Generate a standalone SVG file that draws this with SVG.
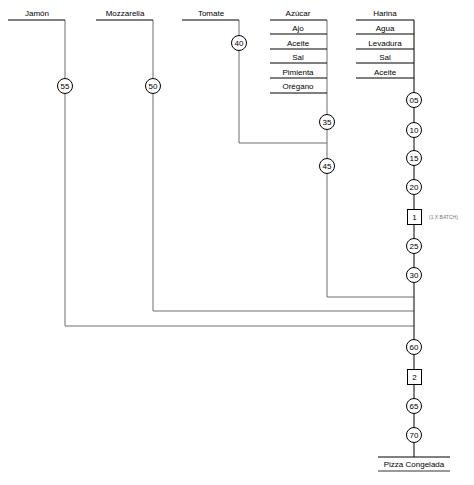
<svg xmlns="http://www.w3.org/2000/svg" width="474" height="485" viewBox="0 0 474 485">
<style>
text{font-family:"Liberation Sans",Arial,sans-serif;font-size:8px;fill:#000;text-anchor:middle}
.g{stroke:#6e6e6e;stroke-width:1;fill:none}
.k{stroke:#000;stroke-width:1;fill:none}
.c{fill:#fff;stroke:#000;stroke-width:1}
.s{font-size:5px;fill:#777;text-anchor:start}
</style>
<g id="connectors">
<path class="g" d="M65,20V326H414"/>
<path class="g" d="M153,20V311H414"/>
<path class="g" d="M239,20V143H327"/>
<path class="g" d="M327,20V297H414"/>
<path class="k" d="M414,20V457"/>
</g>
<g id="jamon"><path class="k" d="M8,20H65"/><text x="37" y="16">Jamón</text></g>
<g id="mozzarella"><path class="k" d="M96,20H153"/><text x="125" y="16">Mozzarella</text></g>
<g id="tomate"><path class="k" d="M182,20H239"/><text x="211" y="16">Tomate</text></g>
<g id="azucar">
<path class="k" d="M270,20H327M270,34H327M270,49H327M270,63H327M270,78H327M270,93H327"/>
<text x="298" y="16">Azúcar</text>
<text x="298" y="31">Ajo</text>
<text x="298" y="46">Aceite</text>
<text x="298" y="60">Sal</text>
<text x="298" y="75">Pimienta</text>
<text x="298" y="89">Orégano</text>
</g>
<g id="harina">
<path class="k" d="M356,20H414M356,34H414M356,49H414M356,63H414M356,78H414"/>
<text x="385" y="16">Harina</text>
<text x="385" y="31">Agua</text>
<text x="385" y="46">Levadura</text>
<text x="385" y="60">Sal</text>
<text x="385" y="75">Aceite</text>
</g>
<g id="op55"><circle class="c" cx="65" cy="86" r="7.5"/><text x="65" y="89">55</text></g>
<g id="op50"><circle class="c" cx="153" cy="86" r="7.5"/><text x="153" y="89">50</text></g>
<g id="op40"><circle class="c" cx="239" cy="43" r="7.5"/><text x="239" y="46">40</text></g>
<g id="op35"><circle class="c" cx="327" cy="122" r="7.5"/><text x="327" y="125">35</text></g>
<g id="op45"><circle class="c" cx="327" cy="166" r="7.5"/><text x="327" y="169">45</text></g>
<g id="op05"><circle class="c" cx="414" cy="100" r="7.5"/><text x="414" y="103">05</text></g>
<g id="op10"><circle class="c" cx="414" cy="130" r="7.5"/><text x="414" y="133">10</text></g>
<g id="op15"><circle class="c" cx="414" cy="158" r="7.5"/><text x="414" y="161">15</text></g>
<g id="op20"><circle class="c" cx="414" cy="187" r="7.5"/><text x="414" y="190">20</text></g>
<g id="insp1"><rect class="c" x="407.5" y="209.5" width="14" height="15"/><text x="414.5" y="220">1</text><text class="s" x="429" y="219">(1 X BATCH)</text></g>
<g id="op25"><circle class="c" cx="414" cy="246" r="7.5"/><text x="414" y="249">25</text></g>
<g id="op30"><circle class="c" cx="414" cy="275" r="7.5"/><text x="414" y="278">30</text></g>
<g id="op60"><circle class="c" cx="414" cy="347" r="7.5"/><text x="414" y="350">60</text></g>
<g id="insp2"><rect class="c" x="407.5" y="369.5" width="14" height="15"/><text x="414.5" y="380">2</text></g>
<g id="op65"><circle class="c" cx="414" cy="406" r="7.5"/><text x="414" y="409">65</text></g>
<g id="op70"><circle class="c" cx="414" cy="435" r="7.5"/><text x="414" y="438">70</text></g>
<g id="pizza"><path class="k" d="M378,457H450"/><path d="M378,471H450" stroke="#777" stroke-width="1.5"/><text x="414" y="467">Pizza Congelada</text></g>
</svg>
